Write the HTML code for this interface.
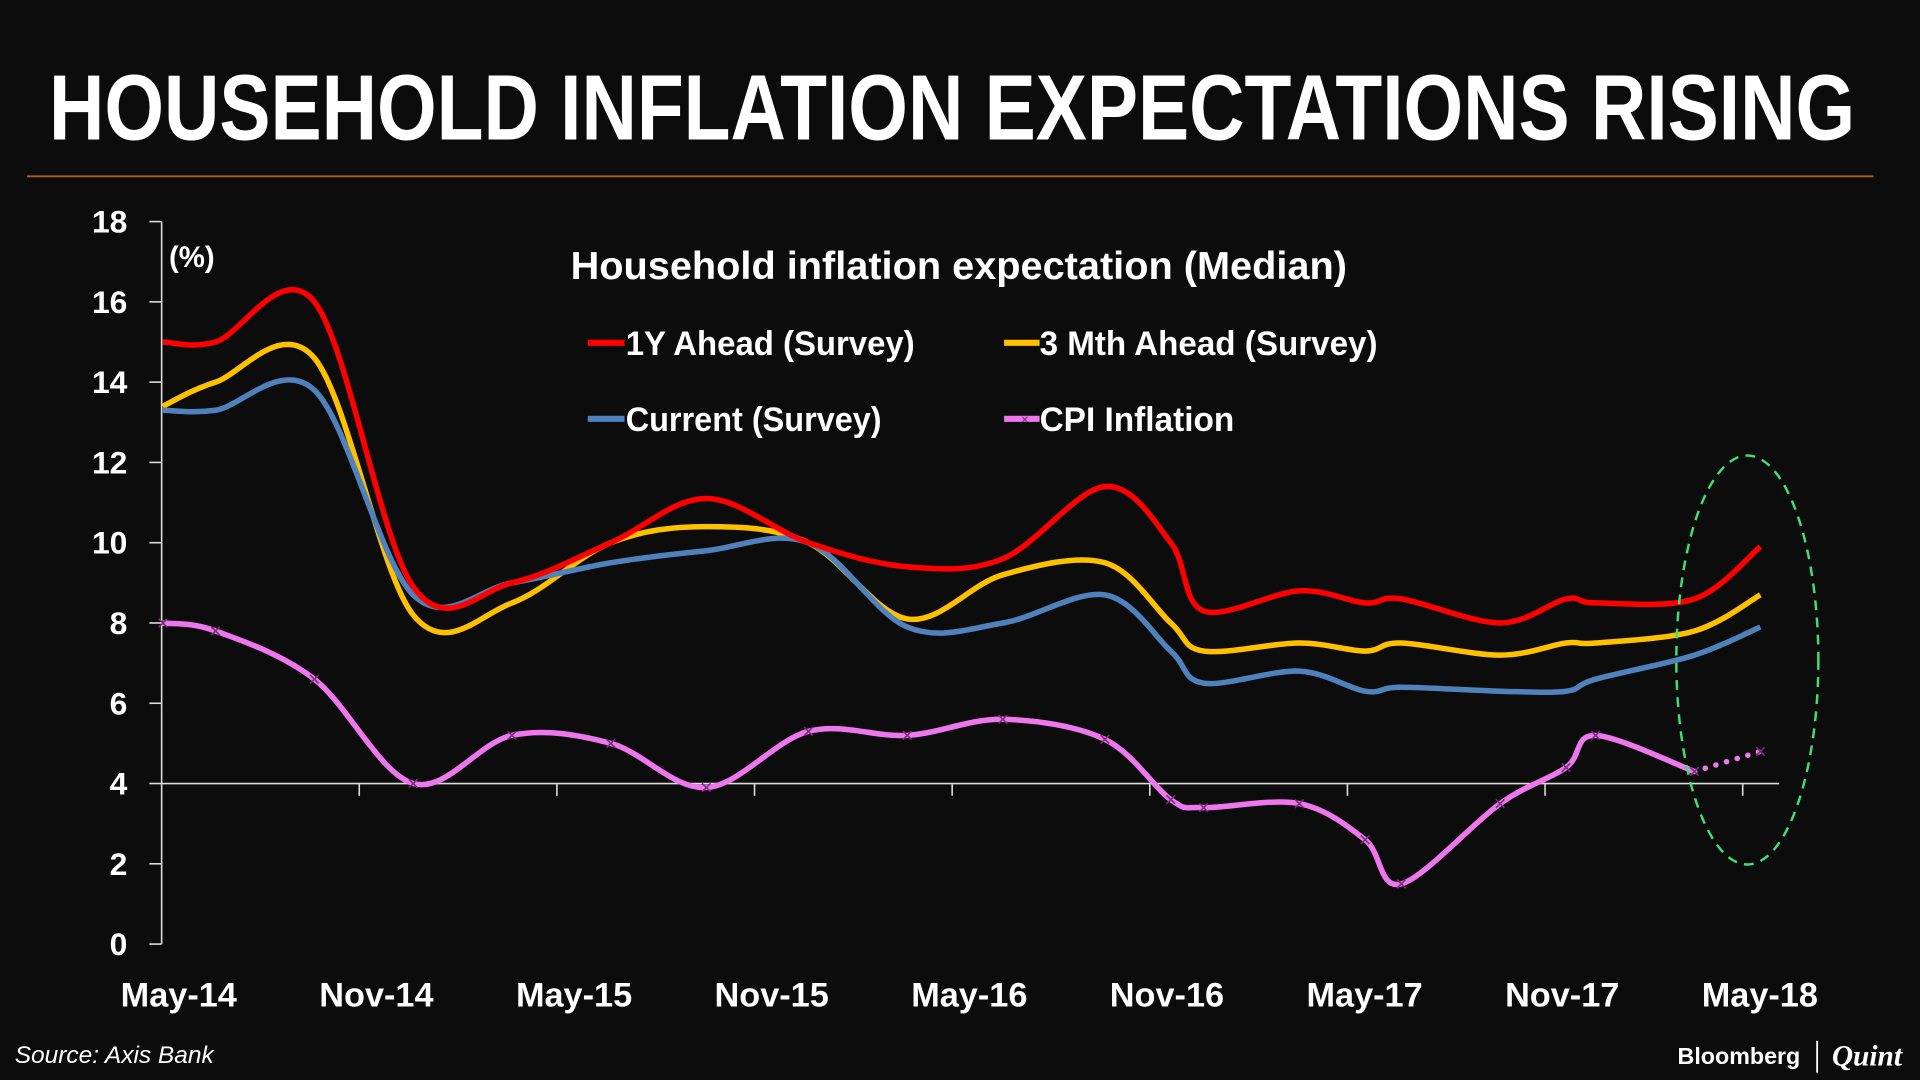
<!DOCTYPE html>
<html><head><meta charset="utf-8"><style>
html,body{margin:0;padding:0;background:#0c0c0c;}
svg{display:block;}
text{font-family:"Liberation Sans",sans-serif;fill:#fff;font-weight:bold;}
</style></head><body>
<svg id="chart" width="1920" height="1080" viewBox="0 0 1568 882" xmlns="http://www.w3.org/2000/svg">
<rect width="1568" height="882" fill="#0c0c0c"/>
<text x="40" y="114" font-size="76" textLength="1475" lengthAdjust="spacingAndGlyphs">HOUSEHOLD INFLATION EXPECTATIONS RISING</text>
<line x1="22" y1="144" x2="1530" y2="144" stroke="#b35a2a" stroke-width="1.5"/>
<text x="466" y="228" font-size="32" textLength="634" lengthAdjust="spacingAndGlyphs">Household inflation expectation (Median)</text>
<g id="legend">
<g><line x1="480" y1="280" x2="510" y2="280" stroke="#ff0000" stroke-width="5"/><text x="511" y="290" font-size="28" textLength="236" lengthAdjust="spacingAndGlyphs">1Y Ahead (Survey)</text></g>
<g><line x1="820" y1="280" x2="849" y2="280" stroke="#ffc000" stroke-width="5"/><text x="849" y="290" font-size="28" textLength="276" lengthAdjust="spacingAndGlyphs">3 Mth Ahead (Survey)</text></g>
<g><line x1="480" y1="342" x2="510" y2="342" stroke="#4f81bd" stroke-width="5"/><text x="511" y="352" font-size="28" textLength="209" lengthAdjust="spacingAndGlyphs">Current (Survey)</text></g>
<g><line x1="820" y1="342" x2="849" y2="342" stroke="#ee77ee" stroke-width="5"/><text x="834" y="346" font-size="10" fill="#8a3a8a" style="fill:#8a3a8a">×</text><text x="849" y="352" font-size="28" textLength="159" lengthAdjust="spacingAndGlyphs">CPI Inflation</text></g>
</g>
<text x="138" y="218" font-size="24">(%)</text>
<g id="axes"></g>
<g id="series"></g>
<ellipse cx="1427" cy="539" rx="58" ry="167" fill="none" stroke="#3de07a" stroke-width="2" stroke-dasharray="8,6"/>
<text x="12" y="868" font-size="20" font-style="italic" style="font-weight:normal">Source: Axis Bank</text>
<text x="1370" y="869" font-size="19">Bloomberg</text>
<line x1="1484" y1="850" x2="1484" y2="876" stroke="#fff" stroke-width="1.5"/>
<text x="1496" y="870" font-size="24" font-style="italic" style="font-family:'Liberation Serif',serif">Quint</text>
</svg>
<script>
const tMonths = [0,1.6,4.6,7.6,10.6,13.6,16.5,19.6,22.6,25.5,28.6,30.6,31.6,34.5,36.5,37.6,40.6,42.6,43.5,46.5,48.5];
const oneYearAhead = [15.0,15.0,16.0,8.9,9.0,10.0,11.1,10.0,9.4,9.6,11.4,10.0,8.3,8.8,8.5,8.6,8.0,8.6,8.5,8.6,9.9];
const threeMonthAhead = [13.4,14.0,14.6,8.2,8.5,10.0,10.4,10.0,8.1,9.2,9.5,8.0,7.3,7.5,7.3,7.5,7.2,7.5,7.5,7.8,8.7];
const currentSurvey = [13.3,13.3,13.8,8.7,9.0,9.5,9.8,10.0,7.9,8.0,8.7,7.3,6.5,6.8,6.3,6.4,6.3,6.3,6.6,7.2,7.9];
const cpiInflation = [8.0,7.8,6.6,4.0,5.2,5.0,3.9,5.3,5.2,5.6,5.1,3.6,3.4,3.5,2.6,1.5,3.5,4.4,5.2,4.3,4.8];
const yTicks = [0,2,4,6,8,10,12,14,16,18];
const xLabels = ["May-14","Nov-14","May-15","Nov-15","May-16","Nov-16","May-17","Nov-17","May-18"];

const NS = "http://www.w3.org/2000/svg";
function xS(t){return 133 + t*26.9;}
function yS(v){return 771 - v*32.78;}
function mk(tag, attrs, parent){const e=document.createElementNS(NS,tag);for(const k in attrs)e.setAttribute(k,attrs[k]);parent.appendChild(e);return e;}
const axes=document.getElementById('axes'), series=document.getElementById('series');

const yAxis = mk('line',{x1:132,y1:yS(18),x2:132,y2:yS(0),stroke:'#ddd','stroke-width':1.3},axes);


yTicks.forEach(v=>{
  const tk=mk('line',{x1:122,y1:yS(v),x2:132,y2:yS(v),stroke:'#ddd','stroke-width':1.3},axes);
  
  
  const tl=mk('text',{x:104,y:yS(v)+9,'font-size':26,'text-anchor':'end'},axes);
  tl.textContent=v;
  
  
});
const xAxis = mk('line',{x1:132,y1:yS(4),x2:1453,y2:yS(4),stroke:'#ddd','stroke-width':1.3},axes);


xLabels.forEach((lab,i)=>{
  if(i>0){
    const tk=mk('line',{x1:xS(i*6)-1,y1:yS(4),x2:xS(i*6)-1,y2:yS(4)+10,stroke:'#ddd','stroke-width':1.3},axes);
    
    
  }
  const tl=mk('text',{x:xS(i*6)+13,y:822,'font-size':28,'text-anchor':'middle'},axes);
  tl.textContent=lab;
  
  
});

function pathD(pts){
  let d='M'+pts[0][0]+','+pts[0][1];
  for(let i=0;i<pts.length-1;i++){
    const p0=pts[Math.max(0,i-1)],p1=pts[i],p2=pts[i+1],p3=pts[Math.min(pts.length-1,i+2)];
    const c1=[p1[0]+(p2[0]-p0[0])/6,p1[1]+(p2[1]-p0[1])/6];
    const c2=[p2[0]-(p3[0]-p1[0])/6,p2[1]-(p3[1]-p1[1])/6];
    d+=' C'+c1[0]+','+c1[1]+' '+c2[0]+','+c2[1]+' '+p2[0]+','+p2[1];
  }
  return d;
}
function pts(vals){return vals.map((v,i)=>[xS(tMonths[i]),yS(v)]);}

const l3=mk('path',{d:pathD(pts(threeMonthAhead)),fill:'none',stroke:'#ffc000','stroke-width':4.5,'stroke-linejoin':'round'},series);


const lc=mk('path',{d:pathD(pts(currentSurvey)),fill:'none',stroke:'#4f81bd','stroke-width':4.5,'stroke-linejoin':'round'},series);


const l1=mk('path',{d:pathD(pts(oneYearAhead)),fill:'none',stroke:'#ff0000','stroke-width':4.5,'stroke-linejoin':'round'},series);



const cp=pts(cpiInflation);
const n=cp.length;
const lcpi=mk('path',{d:pathD(cp.slice(0,n-1)),fill:'none',stroke:'#ee77ee','stroke-width':4.5,'stroke-linejoin':'round'},series);


const lcpid=mk('line',{x1:cp[n-2][0],y1:cp[n-2][1],x2:cp[n-1][0],y2:cp[n-1][1],stroke:'#ee77ee','stroke-width':4.5,'stroke-dasharray':'0.1,9','stroke-linecap':'round'},series);


cp.forEach(p=>{
  const m=mk('path',{d:`M${p[0]-3.5},${p[1]-3.5}L${p[0]+3.5},${p[1]+3.5}M${p[0]-3.5},${p[1]+3.5}L${p[0]+3.5},${p[1]-3.5}`,stroke:'#7a2f7a','stroke-width':1.3},series);
  
  
});
</script>
</body></html>
